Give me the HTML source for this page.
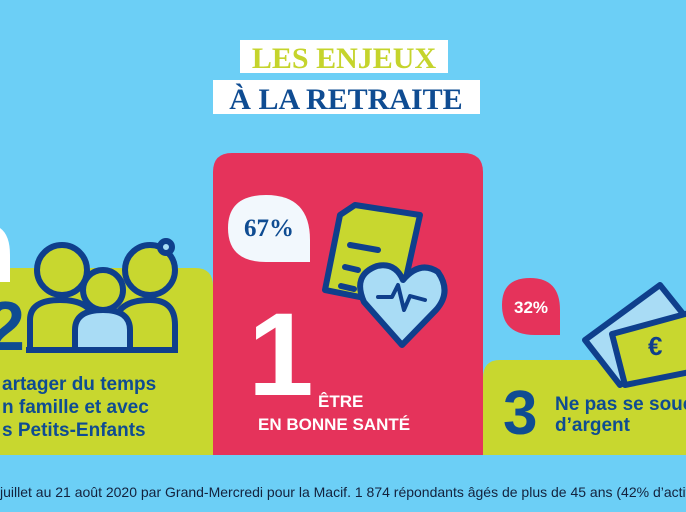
<!DOCTYPE html>
<html><head><meta charset="utf-8"><style>
html,body{margin:0;padding:0;background:#6ccff6;}
svg{display:block}
.s{font-family:"Liberation Sans",sans-serif;font-weight:bold}
.f{font-family:"Liberation Serif",serif;font-weight:bold}
</style></head><body>
<svg width="686" height="512" viewBox="0 0 686 512" xmlns="http://www.w3.org/2000/svg">
<rect width="686" height="512" fill="#6ccff6"/>
<!-- title -->
<rect x="240" y="40" width="208" height="33" fill="#fff"/>
<text x="344" y="68" text-anchor="middle" class="f" font-size="30" fill="#c5d42c">LES ENJEUX</text>
<rect x="213" y="80" width="267" height="34" fill="#fff"/>
<text x="346" y="109" text-anchor="middle" class="f" font-size="30" fill="#0f4c92">À LA RETRAITE</text>
<!-- left green -->
<path d="M0 268 H195 Q213 268 213 286 V455 H0 Z" fill="#c8d72f"/>
<path d="M0 228 Q10 235 10 255 V282 H0 Z" fill="#fff"/>
<text x="-14" y="350" class="s" font-size="70" fill="#0f4c92">2</text>
<!-- family icon -->
<g stroke="#0f3f8c" stroke-width="6" fill="#c8d72f">
<path d="M30 350 V320 Q30 300 60 300 Q90 300 95 320 V350 Z"/>
<path d="M115 350 V320 Q120 300 150 300 Q175 300 175 325 V350 Z"/>
<circle cx="62" cy="270" r="25"/>
<circle cx="150" cy="270" r="25"/>
<circle cx="166" cy="247" r="6" fill="#a9dcf5"/>
<path d="M75 350 V330 Q75 310 103 310 Q130 310 130 330 V350 Z" fill="#a9dcf5"/>
<circle cx="103" cy="290" r="20"/>
<line x1="26" y1="350" x2="178" y2="350"/>
</g>
<text class="s" font-size="19" fill="#0f4c92"><tspan x="2" y="390">artager du temps</tspan><tspan x="2" y="413">n famille et avec</tspan><tspan x="2" y="436">s Petits-Enfants</tspan></text>
<!-- red -->
<path d="M213 455 V172 Q213 153 232 153 H463 Q483 153 483 172 V455 Z" fill="#e5335b"/>
<path d="M310 262 H266 Q228 262 228 228 Q228 195 266 195 Q310 195 310 240 Z" fill="#f2f8fd"/>
<text x="269" y="236" text-anchor="middle" class="f" font-size="25" fill="#0f4c92">67%</text>
<g stroke="#0f3f8c" stroke-width="6" stroke-linejoin="round" stroke-linecap="round">
<path d="M355 205 L420 215 L400 305 L325 290 L340 215 Z" fill="#c8d72f"/>
<line x1="350" y1="245" x2="378" y2="250"/><line x1="345" y1="267" x2="358" y2="270"/><line x1="341" y1="286" x2="354" y2="289"/>
<path d="M402 345 L364 302 Q352 275 377 266 Q395 262 403 280 Q420 260 438 272 Q452 292 436 310 Z" fill="#a9dcf5"/>
<path d="M378 297 L392 297 L398 285 L404 310 L410 296 L425 300" fill="none" stroke-width="4"/>
</g>
<text x="248" y="395" class="s" font-size="118" fill="#fff">1</text>
<text x="318" y="407" class="s" font-size="17" fill="#fff">ÊTRE</text>
<text x="258" y="430" class="s" font-size="17" fill="#fff">EN BONNE SANTÉ</text>
<!-- right green -->
<path d="M483 455 V378 Q483 360 500 360 H686 V455 Z" fill="#c8d72f"/>
<path d="M560 335 V310 Q560 278 530 278 Q502 278 502 305 Q502 335 535 335 Z" fill="#e5335b"/>
<text x="531" y="313" text-anchor="middle" class="s" font-size="17" fill="#fff">32%</text>
<g stroke="#0f3f8c" stroke-width="6" stroke-linejoin="round">
<path d="M585 340 L660 285 L700 335 L620 385 Z" fill="#a9dcf5"/>
<path d="M612 334 L700 310 L700 370 L625 385 Z" fill="#c8d72f"/>
</g>
<text x="648" y="355" class="s" font-size="26" fill="#0f3f8c">€</text>
<text x="503" y="434" class="s" font-size="62" fill="#0f4c92">3</text>
<text class="s" font-size="19" fill="#0f4c92"><tspan x="555" y="410">Ne pas se soucier</tspan><tspan x="555" y="431">d’argent</tspan></text>
<!-- footnote -->
<text x="0" y="497" font-family="Liberation Sans,sans-serif" font-size="14" fill="#13223d">juillet au 21 août 2020 par Grand-Mercredi pour la Macif. 1 874 répondants âgés de plus de 45 ans (42% d’actifs)</text>
</svg>
</body></html>
